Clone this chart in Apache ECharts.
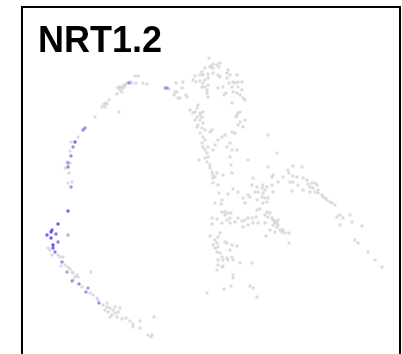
<!DOCTYPE html>
<html>
<head>
<meta charset="utf-8">
<script src="https://cdn.jsdelivr.net/npm/echarts@6/dist/echarts.min.js"></script>
<style>html,body{margin:0;padding:0;background:#fff;}#chart{width:402px;height:354px;}</style>
</head>
<body>
<div id="chart"></div>
<script>
// Embedding coordinates (x = UMAP_1 units, y = UMAP_2 units, y grows downward on this scale)
const titleText = 'NRT1.2';

const topArc = [
  [135,76],[138,76],[127,83],[132,83],[136,83],[143,83],[147,84],[124,85],[121,87],[119,87],
  [123,88],[120,90],[118,88],[122,92],[117,94],[109,100],[106,103],[104,104],[107,104],[105,107],
  [102,107],[119,112],[95,117],[78,137],[177,92],[174,95],[178,98],[169,89],[125,86],[130,82]
];

const centerTop = [
  [209,58],[213,64],[211,66],[217,65],[220,63],[219,67],[213,68],[210,67],[205,68],
  [202,72],[200,75],[203,75],[208,74],[213,73],[218,75],[220,77],[227,73],
  [195,76],[193,80],[196,82],[200,81],[205,80],[208,78],
  [203,83],[205,87],[202,87],[208,85],[207,90],
  [227,78],[229,83],[233,82],[235,83],[238,82],[242,82],[237,75],
  [223,87],[218,88],[232,87],[238,87],[242,90],[233,92],[237,93],[240,95],[243,98],[226,93],[224,95],
  [176,83],[183,82],[175,92],[180,98],[182,88],[186,95],[187,97],
  [207,93],[208,97],[232,103],
  [240,112],[238,113],[237,115],[236,117],
  [198,105],[197,108],[190,110],[195,112],[200,113],[203,112],[197,117],[195,120],[200,120],[202,117],
  [203,123],[198,125],[197,127],[202,128],[205,130],
  [210,132],[212,130],[218,140],[222,137],[225,135],
  [232,132],[235,133],[238,125],[243,127],[245,120],[240,122],
  [200,133],[203,137],[205,140],[202,143],[203,147],[205,150],[207,153],[208,157],[205,158],[207,162],[210,165],
  [215,145],[213,150],[208,147],
  [230,143],[227,147],[232,150],[230,157],[237,150],
  [248,160],[268,135],[199,160],[228,70],[230,75],[245,100],[193,113],[200,115]
];

const middle = [
  [210,168],[212,172],[213,175],[215,177],[213,178],
  [217,173],[223,175],[231,165],[232,173],
  [213,183],[218,185],[219,193],[228,194],[233,189],[238,192],
  [253,178],[252,185],[257,187],[255,192],[258,192],[257,200],[250,197],[248,195],[243,198],[245,203],
  [215,203],[222,200],[221,204],
  [257,210],
  [222,212],[225,212],[228,213],[231,213],[230,218],[225,215],[227,220],
  [212,218],[217,219],[212,224],[222,223],[230,223],[235,222],[238,218],[242,221],
  [245,220],[248,218],[252,218],[256,217],[248,225],[243,227],[253,223],[258,223],
  [220,233],[218,237],[215,240],[210,236],[213,245],[217,243],[218,247],[215,248],[217,252],[220,253],
  [222,257],[218,260],[223,260],[227,258],[227,243],[225,242],[230,250],[232,257],[228,260],[233,260],
  [232,245],[237,246],[240,263],
  [218,265],[222,267],[217,270],[223,266],[252,263],
  [233,275],[233,278],[231,286],[224,289],[207,293],
  [250,286],[253,288],[257,297]
];

const rightArm = [
  [277,153],[268,167],[273,175],[272,177],[278,182],[283,177],[288,170],[293,166],[289,173],[293,176],
  [297,177],[302,167],[303,178],[307,180],
  [290,182],[293,182],[298,185],[303,190],[292,191],
  [308,184],[310,187],[312,183],[315,183],[317,185],[313,188],[315,192],[318,190],[310,192],[318,193],
  [322,195],[323,197],[325,198],[327,200],[332,203],[335,205],[330,202],
  [337,217],[340,215],[343,218],[340,225],[350,215],[352,222],[362,226],[355,240],[358,243],[368,252],
  [375,260],[382,267],
  [263,185],[262,188],[267,187],[265,190],[272,185],[273,192],[263,193],[262,197],[265,198],[267,202],
  [268,198],[263,203],[260,209],[267,212],[265,215],[270,213],[268,217],[272,218],[273,220],[275,221],
  [277,222],[278,220],[275,223],[273,225],[278,225],[277,227],[280,230],[283,230],[282,232],[285,233],
  [275,232],[270,230],[266,236],[289,233],[289,243],[265,223]
];

const lowerArc = [
  [71,142],[70,151],[67,162],[70,163],[65,168],[69,173],[68,183],[72,182],
  [50,250],[48,248],[52,255],[58,255],[60,257],[63,257],[61,266],[65,265],[68,267],[70,269],
  [72,272],[73,273],[77,275],[75,277],[78,277],[73,280],[91,272],[82,287],[90,293],[93,295],
  [97,298],[98,300],
  [103,305],[107,303],[110,308],[108,312],[105,310],[113,310],[115,313],[112,315],[110,317],[117,317],
  [120,308],[118,312],[115,307],[107,307],
  [122,319],[126,318],[130,321],[133,324],[140,321],[140,328],[133,327],[154,317],[148,335],[151,337],[152,335]
];

// [x, y, expression]
const expressed = [
  [129,83,0.45],[167,88,0.45],[165,88,0.3],[85,128,0.5],[83,130,0.55],[75,142,0.75],[73,147,0.5],
  [71,156,0.5],[68,163,0.4],[68,167,0.6],[71,187,0.45],[68,211,0.8],[58,224,0.85],[52,230,0.8],
  [51,232,0.85],[47,235,0.8],[56,234,0.7],[68,235,0.3],[51,238,0.85],[58,242,0.6],[53,245,0.9],
  [53,248,0.8],[55,252,0.6],[62,262,0.5],[67,272,0.4],[72,281,0.45],[79,284,0.55],[86,292,0.45],
  [88,288,0.4],[99,303,0.5]
];

const grayPoints = [].concat(topArc, centerTop, middle, rightArm, lowerArc);
const bluePoints = expressed.slice().sort((a, b) => a[2] - b[2]);

const chart = echarts.init(document.getElementById('chart'), null, {renderer: 'canvas'});
chart.setOption({
  animation: false,
  title: {
    text: titleText,
    left: 33,
    top: 19,
    textStyle: {fontFamily: 'Liberation Sans', fontWeight: 'bold', fontSize: 36, color: '#000'}
  },
  grid: {left: 22, right: 2, top: 7, bottom: 0, show: false},
  xAxis: {type: 'value', min: 22, max: 400, show: false},
  yAxis: {type: 'value', min: 7, max: 354, inverse: true, show: false},
  graphic: [{
    type: 'polyline', silent: true, z: 10,
    shape: {points: [[22, 360], [22, 7], [400, 7], [400, 360]]},
    style: {stroke: '#000', lineWidth: 2, fill: null}
  }],
  visualMap: {
    show: false, type: 'continuous', seriesIndex: 1, dimension: 2, min: 0, max: 1,
    inRange: {color: ['#D3D3D3', '#3A10FF']}
  },
  series: [
    {type: 'scatter', data: grayPoints, symbolSize: 3.5, silent: true,
     itemStyle: {color: '#D3D3D3'}},
    {type: 'scatter', data: bluePoints, symbolSize: 3.5, silent: true}
  ]
});
</script>
</body>
</html>
